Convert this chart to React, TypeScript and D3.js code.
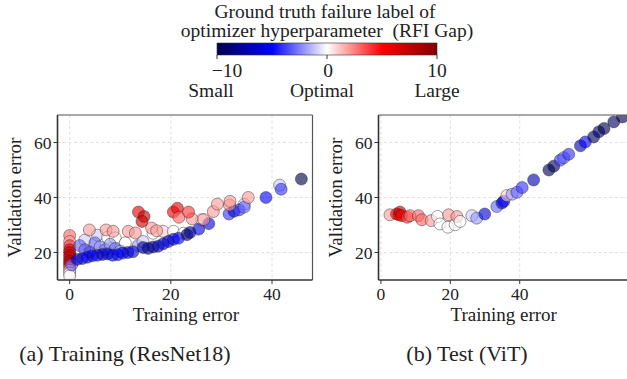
import React from "react";
import * as d3 from "d3";

// Training panel (ResNet18): training error, validation error, RFI gap label
const trainX = [
  0, 0, 0, 0, 0, 0, 0, 0, 0, 0, 0, 0, 0, 0, 0.4,
  3, 5.5, 7.5, 9, 11, 16.5, 18.5, 20.5, 22.5, 26.1, 34.5, 41.5,
  2, 3, 4, 5, 6, 7, 8, 9, 10, 13.5, 14.5,
  1.5, 2.5, 3.5, 4.5, 5.5, 6.5, 7.5, 8.5, 9.5, 10.5, 11.5, 12.5, 14.5, 15.5, 16.5, 17.5,
  18.5, 19.5, 20.5, 21.5, 23.2, 23.8, 25.5, 27.5, 31.5, 32.5, 33.5, 34.5, 38.8, 41.8, 45.8,
  3.9, 7.2, 8.6, 11.6, 13, 16.2, 17.2, 24.2, 26.5, 28.4, 29.2, 31.6, 31.7, 35.3,
  13.6, 14.7, 14.3, 20.5, 21.3, 21.6, 23.5,
];
const trainY = [
  26.2, 24, 22.5, 21, 20, 19, 18, 17, 16.2, 15.5, 14.5, 13.5, 12.5, 11.5, 15.5,
  24.5, 26.3, 25.5, 25.3, 23.5, 27, 27.7, 27.7, 27, 31.9, 37.5, 44.5,
  22.5, 21, 20.2, 23.5, 22, 21, 23, 21.5, 20.5, 22.5, 24,
  17.5, 17.8, 18.3, 18.8, 19, 19.3, 19.5, 19, 19.2, 19.8, 20, 20.3, 21.8, 21.5, 22, 22.3,
  23.2, 24, 24.8, 25.2, 26.5, 27.3, 28.5, 30.5, 34, 35, 35.5, 36.5, 40, 43, 46.7,
  28.2, 28.2, 27.7, 27.7, 27.1, 28.9, 27.9, 32.2, 32, 34.9, 37.6, 37.3, 38.6, 40,
  34.7, 33.1, 31.3, 34.7, 36.1, 32.8, 34.7,
];
const trainGap = [
  3, 2, 4, 6, 7, 7, 6, 7, 6, 5, 3, 1, 0, 0, -3,
  -1, -1, 0, 0, 0, 0, 1, 0, 0, 0, -1, -1,
  -3, -3, -4, -3, -2, -3, -2, -3, -2, -2, -1,
  -6, -6, -5, -6, -5, -7, -6, -6, -5, -5, -6, -6, -7, -8, -8, -7,
  -6, -6, -6, -5, -9, -8, -6, -6, -4, -6, -4, -3, -5, -4, -10,
  2, 2, 2, 2, 2, 2, 2, 2, 2, 2, 2, 2, 2, 2,
  6, 7, 7, 5, 6, 3, 4,
];

// Test panel (ViT)
const testX = [
  2.6, 4.5, 5.2, 5.5, 6, 7.6, 8.4, 10.8, 11.8, 14.5, 16.3, 17, 19.3, 19.5, 21.4, 21.9, 22.8,
  26.2, 27.6, 29.9, 33.4, 34.9, 35.4, 36.3, 37.8, 39.2, 40.7, 44, 48.4, 49.8, 51.7, 52.7,
  54.1, 57.5, 58.9, 61.3, 62.8, 64.3, 67.1, 69.6,
];
const testY = [
  33.7, 34, 33.7, 34.7, 33.4, 32.8, 33.4, 33.4, 31.9, 31.6, 33.1, 30.4, 29.2, 33.7, 30.1, 33.1, 31.3,
  33.4, 32.5, 34, 36.7, 38, 38.6, 40.7, 41.2, 41.9, 43.6, 46.4, 50, 51.4, 53.6, 54.5,
  55.7, 58.8, 60.2, 62, 63.9, 65.1, 67.5, 69.3,
];
const testGap = [
  2, 5, 6, 7, 5, 4, 3, 3, 3, 2, 0, 0, 0, 2, 0, 2, 0,
  -1, -2, -6, -3, -6, -5, 1, -2, -3, -4, -7, -9.5, -9.5, -4, -3,
  -4, -7, -5, -9.5, -9, -10, -9.5, -10,
];

const axisTicks = [0, 20, 40];
const valTicks = [20, 40, 60];
const barTicks = [-10, 0, 10];
const barNotes = ["Small", "Optimal", "Large"];
// horizontal nudges of the colorbar captions, in px
const barTickShift = [10, 1, 0];
const barNoteShift = [-6, -5, 0];

const seismicStops = ["#00004c", "#0000ff", "#ffffff", "#ff0000", "#800000"];
const seismic = d3
  .scaleLinear<string>()
  .domain([-10, -5, 0, 5, 10])
  .range(seismicStops)
  .clamp(true);

const FONT = "'Liberation Serif', 'DejaVu Serif', serif";

type PanelProps = {
  x0: number;
  x1: number;
  xDomain: [number, number];
  xs: number[];
  ys: number[];
  gaps: number[];
  id: string;
  rightSpine: boolean;
};

function Panel({ x0, x1, xDomain, xs, ys, gaps, id, rightSpine }: PanelProps) {
  const y0 = 115;
  const y1 = 280;
  const x = d3.scaleLinear().domain(xDomain).range([x0, x1]);
  const y = d3.scaleLinear().domain([10, 70]).range([y1, y0]);
  const cx = (x0 + Math.min(x1, 627)) / 2 + 1;
  return (
    <g>
      <defs>
        <clipPath id={id}>
          <rect x={x0} y={y0} width={x1 - x0} height={y1 - y0} />
        </clipPath>
      </defs>
      {axisTicks.map((t) => (
        <line key={"gx" + t} x1={x(t)} x2={x(t)} y1={y0} y2={y1} stroke="#dcdcdc" strokeWidth={0.9} strokeDasharray="3,2.5" />
      ))}
      {valTicks.map((t) => (
        <line key={"gy" + t} x1={x0} x2={x1} y1={y(t)} y2={y(t)} stroke="#dcdcdc" strokeWidth={0.9} strokeDasharray="3,2.5" />
      ))}
      <g clipPath={`url(#${id})`}>
        {xs.map((v, i) => (
          <circle
            key={i}
            cx={x(v)}
            cy={y(ys[i])}
            r={6}
            fill={seismic(gaps[i])}
            fillOpacity={0.62}
            stroke="#222"
            strokeOpacity={0.55}
            strokeWidth={0.8}
          />
        ))}
      </g>
      <line x1={x0} x2={x1} y1={y0} y2={y0} stroke="#555" strokeWidth={1.2} />
      {rightSpine && <line x1={x1} x2={x1} y1={y0} y2={y1} stroke="#555" strokeWidth={1.2} />}
      <line x1={x0} x2={x0} y1={y0} y2={y1} stroke="#333" strokeWidth={1.6} />
      <line x1={x0} x2={x1} y1={y1} y2={y1} stroke="#333" strokeWidth={1.6} />
      {axisTicks.map((t) => (
        <g key={"tx" + t}>
          <line x1={x(t)} x2={x(t)} y1={y1} y2={y1 + 4} stroke="#333" strokeWidth={1} />
          <text x={x(t)} y={300} textAnchor="middle" fontSize={17.5} fontFamily={FONT} fill="#222">
            {t}
          </text>
        </g>
      ))}
      {valTicks.map((t) => (
        <g key={"ty" + t}>
          <line x1={x0 - 4} x2={x0} y1={y(t)} y2={y(t)} stroke="#333" strokeWidth={1} />
          <text x={x0 - 6} y={y(t) + 6} textAnchor="end" fontSize={17.5} fontFamily={FONT} fill="#222">
            {t}
          </text>
        </g>
      ))}
      <text x={cx} y={321} textAnchor="middle" fontSize={19} fontFamily={FONT} fill="#222">
        Training error
      </text>
      <text
        transform={`translate(${x0 - 37},${(y0 + y1) / 2}) rotate(-90)`}
        textAnchor="middle"
        fontSize={19}
        fontFamily={FONT}
        fill="#222"
      >
        Validation error
      </text>
    </g>
  );
}

export default function App() {
  const barX = d3.scaleLinear().domain([-10, 10]).range([217, 437]);
  return (
    <svg
      width={627}
      height={379}
      style={{ position: "absolute", left: 0, top: 0, background: "#fff" }}
    >
      <defs>
        <linearGradient id="seismicBar" x1="0" x2="1" y1="0" y2="0">
          {seismicStops.map((c, i) => (
            <stop key={i} offset={`${(i / (seismicStops.length - 1)) * 100}%`} stopColor={c} />
          ))}
        </linearGradient>
      </defs>
      <rect width={627} height={379} fill="#fff" />
      <text x={325} y={18} textAnchor="middle" fontSize={19.5} fontFamily={FONT} fill="#222">
        Ground truth failure label of
      </text>
      <text x={327} y={37} textAnchor="middle" fontSize={19.5} fontFamily={FONT} fill="#222" style={{ whiteSpace: "pre" }}>
        {"optimizer hyperparameter  (RFI Gap)"}
      </text>
      <rect x={barX(-10)} y={43} width={barX(10) - barX(-10)} height={12} fill="url(#seismicBar)" stroke="#333" strokeWidth={0.6} />
      {barTicks.map((t, i) => (
        <g key={t}>
          <line x1={barX(t)} x2={barX(t)} y1={55} y2={59} stroke="#333" strokeWidth={1} />
          <text x={barX(t) + barTickShift[i]} y={77} textAnchor="middle" fontSize={19.5} fontFamily={FONT} fill="#222">
            {t < 0 ? `\u2212${Math.abs(t)}` : t}
          </text>
          <text x={barX(t) + barNoteShift[i]} y={97} textAnchor="middle" fontSize={19.5} fontFamily={FONT} fill="#222">
            {barNotes[i]}
          </text>
        </g>
      ))}
      <Panel x0={57.5} x1={312.5} xDomain={[-2.4, 48]} xs={trainX} ys={trainY} gaps={trainGap} id="clipA" rightSpine={true} />
      <Panel x0={378.5} x1={628} xDomain={[-0.7, 71.2]} xs={testX} ys={testY} gaps={testGap} id="clipB" rightSpine={false} />
      <text x={125} y={361} textAnchor="middle" fontSize={22} fontFamily={FONT} fill="#222">
        (a) Training (ResNet18)
      </text>
      <text x={467} y={361} textAnchor="middle" fontSize={22} fontFamily={FONT} fill="#222">
        (b) Test (ViT)
      </text>
    </svg>
  );
}
